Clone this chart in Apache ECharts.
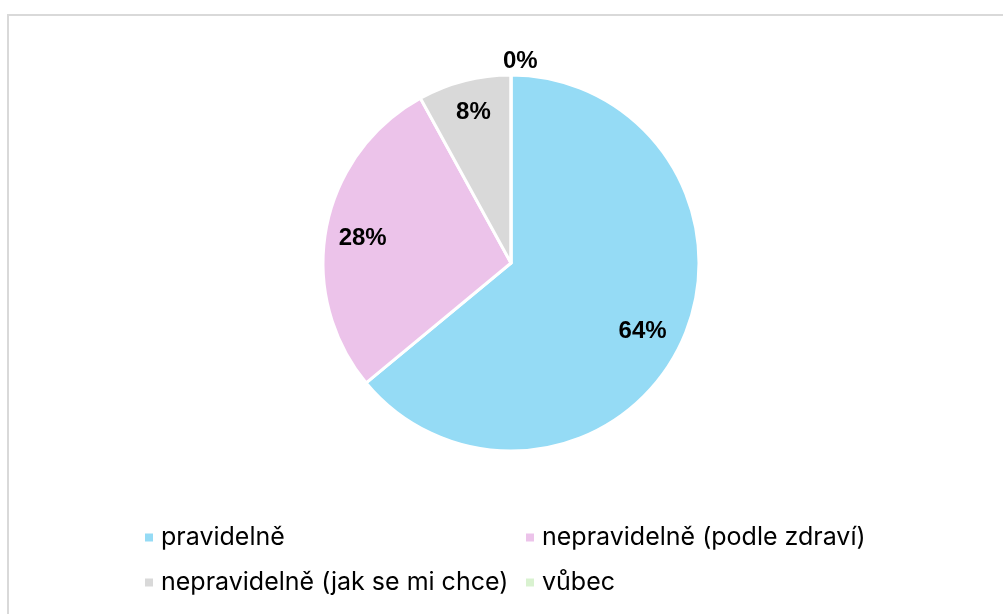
<!DOCTYPE html>
<html>
<head>
<meta charset="utf-8">
<script src="https://cdn.jsdelivr.net/npm/echarts@6/dist/echarts.min.js"></script>
<style>
  html, body { margin: 0; padding: 0; background: #fff; }
  #frame { position: absolute; left: 7px; top: 14px; width: 1010px; height: 620px; border: 2px solid #d9d9d9; box-sizing: border-box; }
  #main { position: absolute; left: 0; top: 0; width: 1003px; height: 614px; }
</style>
</head>
<body>
<div id="frame"></div>
<div id="main"></div>
<script>
  // data
  var categories = ['pravidelně', 'nepravidelně (podle zdraví)', 'nepravidelně (jak se mi chce)', 'vůbec'];
  var shares = [64, 28, 8, 0];
  var colors = ['#95dbf5', '#ecc3ea', '#d9d9d9', '#d9f2d0'];

  var font = 'Liberation Sans, Arial, sans-serif';

  var pieData = categories.map(function (name, i) {
    return { name: name, value: shares[i], itemStyle: { color: colors[i] } };
  });

  // second ring only carries the labels, placed further out than the default "inside"
  var labelData = categories.map(function (name, i) {
    var item = { name: name, value: shares[i] };
    if (shares[i] === 0) {
      item.label = { position: 'outside', distanceToLabelLine: 0 };
      item.labelLine = { show: false, length: 14, length2: 0 };
    }
    return item;
  });

  var legendStyle = {
    orient: 'vertical',
    itemWidth: 10,
    itemHeight: 10,
    itemGap: 20,
    padding: 0,
    icon: 'rect',
    selectedMode: false,
    textStyle: { fontFamily: 'Inter, sans-serif', fontSize: 25, color: '#000', padding: [0, 0, 0, 2] }
  };

  var chart = echarts.init(document.getElementById('main'));
  chart.setOption({
    animation: false,
    legend: [
      Object.assign({}, legendStyle, { left: 143, top: 525, data: [categories[0], categories[2]] }),
      Object.assign({}, legendStyle, { left: 524, top: 525, data: [categories[1], categories[3]] })
    ],
    series: [
      {
        type: 'pie',
        center: [511, 263],
        radius: [0, 188],
        startAngle: 90,
        clockwise: true,
        itemStyle: { borderColor: '#fff', borderWidth: 3 },
        label: { show: false },
        labelLine: { show: false },
        emphasis: { disabled: true },
        data: pieData
      },
      {
        type: 'pie',
        silent: true,
        center: [511, 263],
        radius: [108, 188],
        startAngle: 90,
        clockwise: true,
        itemStyle: { color: 'rgba(0,0,0,0)' },
        label: {
          show: true,
          position: 'inside',
          formatter: '{c}%',
          fontFamily: font,
          fontWeight: 'bold',
          fontSize: 24,
          color: '#000'
        },
        labelLine: { show: false },
        labelLayout: function (params) {
          var shift = [{ dx: -5, dy: 4 }, { dy: 4 }, { dy: -4 }, { dx: -8 }];
          return shift[params.dataIndex];
        },
        emphasis: { disabled: true },
        data: labelData
      }
    ]
  });
</script>
</body>
</html>
